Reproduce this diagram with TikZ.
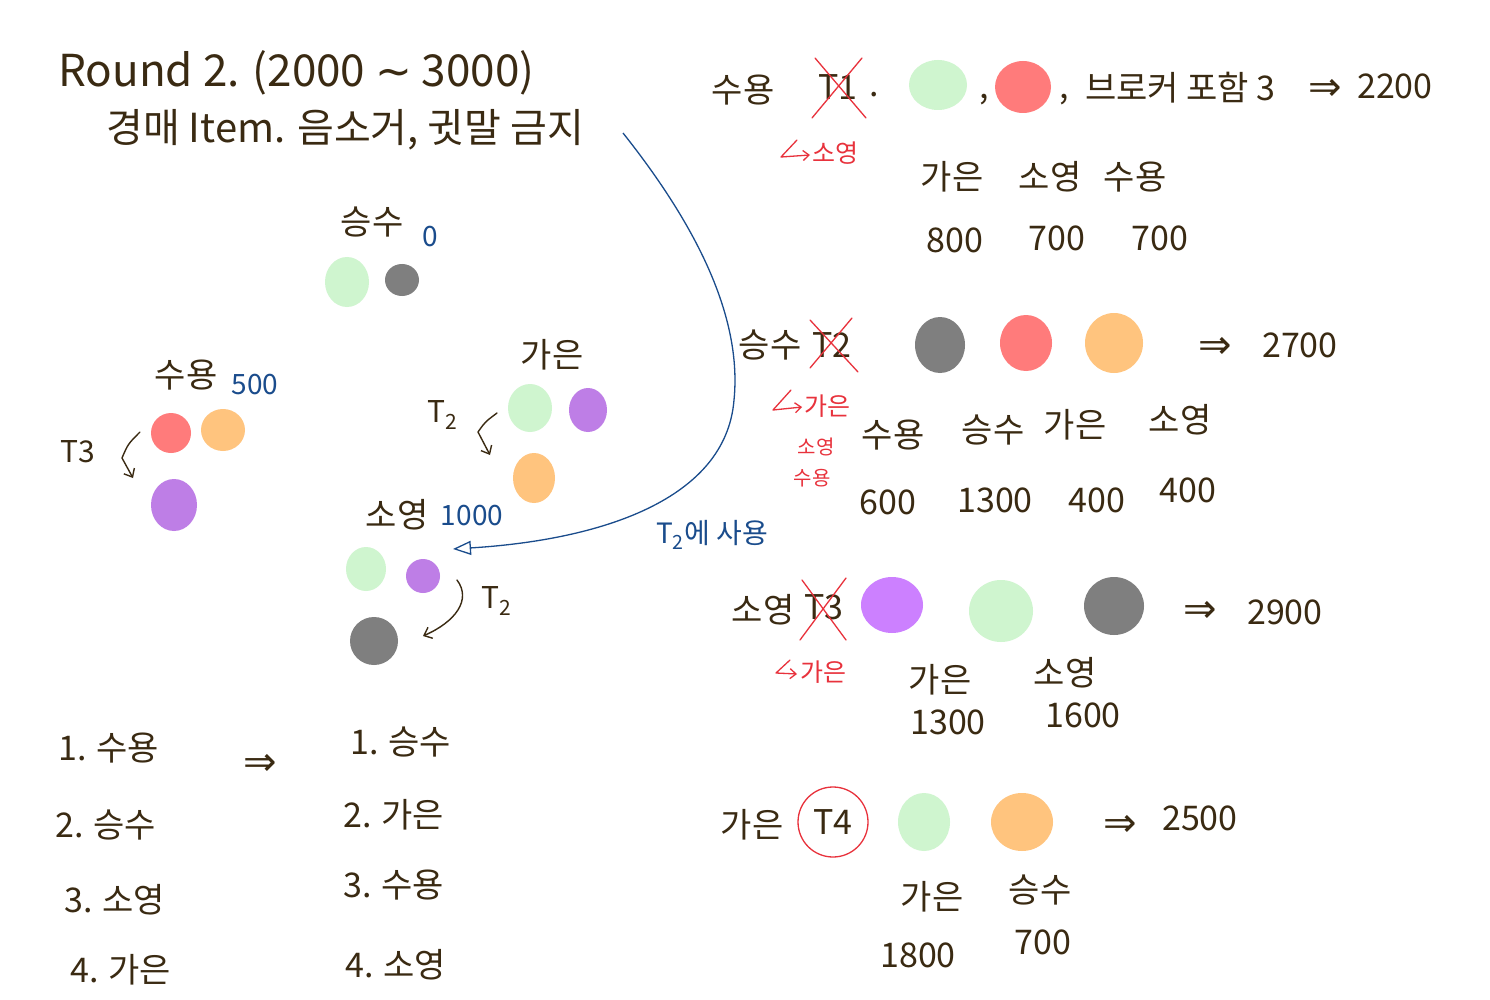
\documentclass[tikz,border=0pt]{standalone}
\usepackage{fontspec}
\usetikzlibrary{shapes.geometric,arrows.meta}
\newfontfamily\kr{Noto Sans CJK KR}
\newfontfamily\symf{DejaVu Sans}
\definecolor{ink}{HTML}{3A2A12}
\definecolor{pblue}{HTML}{1A4C8C}
\definecolor{pred}{HTML}{E8323C}
\definecolor{cgreen}{HTML}{CFF5CF}
\definecolor{cred}{HTML}{FF7B7B}
\definecolor{corange}{HTML}{FFC47E}
\definecolor{cpurple}{HTML}{BE7EE6}
\definecolor{cpurple2}{HTML}{CC80FF}
\definecolor{cgray}{HTML}{7F7F7F}
\tikzset{
  txt/.style={font=\kr\fontsize{34}{34}\selectfont, text=ink, inner sep=0pt},
  big/.style={font=\kr\fontsize{44}{44}\selectfont, text=ink, inner sep=0pt},
  sub/.style={font=\kr\fontsize{40}{40}\selectfont, text=ink, inner sep=0pt},
  small/.style={font=\kr\fontsize{30}{30}\selectfont, text=ink, inner sep=0pt},
  bluetxt/.style={font=\kr\fontsize{28}{28}\selectfont, text=pblue, inner sep=0pt},
  redtxt/.style={font=\kr\fontsize{25}{25}\selectfont, text=pred, inner sep=0pt},
  redsm/.style={font=\kr\fontsize{20}{20}\selectfont, text=pred, inner sep=0pt},
  dbl/.style={font=\symf\fontsize{40}{40}\selectfont, text=ink, inner sep=0pt},
  dot/.style={ellipse, draw=none, inner sep=0pt},
  inkline/.style={draw=ink, line width=1.4pt, line cap=round, line join=round},
  inkarrow/.style={inkline, -{Straight Barb[length=7pt,width=12pt]}},
  redline/.style={draw=pred, line width=1.3pt, line cap=round, line join=round},
  redarrow/.style={redline, -{Straight Barb[length=6pt,width=10pt]}},
}
\begin{document}
\begin{tikzpicture}[x=1pt,y=-1pt]
\useasboundingbox[fill=white] (0,0) rectangle (1490,1000);

% ---- title ----
\node[big, anchor=west] (title) at (58,73) {Round 2. (2000 {\symf\char"223C} 3000)};
\node[sub, anchor=west] (sub) at (106,130) {경매 Item. 음소거, 귓말 금지};
\coordinate (cs) at (623,133);

% ---- 승수 0 ----
\node[txt] (ss) at (372,222) {승수};
\node[bluetxt] (ss0) at (430,237) {0};
\node[dot, fill=cgreen, minimum width=44pt, minimum height=50pt] (ssg) at (347,282) {};
\node[dot, fill=cgray, minimum width=34pt, minimum height=32pt] (ssk) at (402,280) {};

% ---- 수용 500 ----
\node[txt] (sy) at (186,375) {수용};
\node[bluetxt] (sy5) at (255,385) {500};
\node[dot, fill=cred, minimum width=40pt, minimum height=40pt] (syr) at (171,433) {};
\node[dot, fill=corange, minimum width=44pt, minimum height=42pt] (syo) at (223,430) {};
\node[dot, fill=cpurple, minimum width=46pt, minimum height=52pt] (syp) at (174,505) {};
\node[small] (syt) at (78,452) {T3};
\draw[inkarrow] (140,432) .. controls (128,444) .. (122,458) -- (133,478);

% ---- 가은 ----
\node[txt] (ge) at (552,355) {가은};
\node[dot, fill=cgreen, minimum width=44pt, minimum height=48pt] (geg) at (530,408) {};
\node[dot, fill=cpurple, minimum width=38pt, minimum height=44pt] (gep) at (588,410) {};
\node[dot, fill=corange, minimum width=42pt, minimum height=50pt] (geo) at (534,478) {};
\node[small] (get) at (443,415) {T\textsubscript{2}};
\draw[inkarrow] (497,413) .. controls (485,422) .. (478,432) -- (490,455);

% ---- 소영 1000 ----
\node[txt] (so) at (397,515) {소영};
\node[bluetxt] (so1) at (472,516) {1000};
\node[dot, fill=cgreen, minimum width=40pt, minimum height=44pt] (sog) at (366,569) {};
\node[dot, fill=cpurple, minimum width=34pt, minimum height=34pt] (sop) at (423,576) {};
\node[dot, fill=cgray, minimum width=48pt, minimum height=48pt] (sok) at (374,641) {};
\node[small] (sot) at (497,601) {T\textsubscript{2}};
\draw[inkarrow] (457,580) .. controls (472,600) and (455,622) .. (423,636);

% ---- blue curve ----
\coordinate (ce) at (453,549);
\draw[pblue, line width=1.3pt, -{Triangle[open,length=18pt,width=14pt]}]
  (cs) .. controls (700,230) and (742,320) .. (734,400)
       .. controls (726,500) and (600,540) .. (ce);
\node[font=\kr\fontsize{28}{28}\selectfont, text=pblue, inner sep=0pt] (t2u) at (712,535) {T\textsubscript{2}에 사용};

% ---- bottom-left ranking ----
\node[txt, anchor=west] (l1) at (58,748) {1. 수용};
\node[txt, anchor=west] (l2) at (55,825) {2. 승수};
\node[txt, anchor=west] (l3) at (64,900) {3. 소영};
\node[txt, anchor=west] (l4) at (70,970) {4. 가은};
\node[dbl] (larr) at (260,765) {⇒};
\node[txt, anchor=west] (r1) at (350,742) {1. 승수};
\node[txt, anchor=west] (r2) at (343,815) {2. 가은};
\node[txt, anchor=west] (r3) at (343,885) {3. 수용};
\node[txt, anchor=west] (r4) at (345,965) {4. 소영};

% ---- right: row 1 ----
\node[txt] (a1) at (743,90) {수용};
\node[txt] (a1t) at (838,87) {T1};
\draw[redline] (815,58) -- (866,118);
\draw[redline] (862,58) -- (812,118);
\node[txt] at (874,95) {.};
\node[dot, fill=cgreen, minimum width=58pt, minimum height=50pt] (a1g) at (938,85) {};
\node[txt] at (984,100) {,};
\node[dot, fill=cred, minimum width=56pt, minimum height=52pt] (a1r) at (1023,87) {};
\node[txt] at (1064,100) {,};
\node[txt, anchor=west] (a1b) at (1085,88) {브로커 포함 3};
\node[dbl] (a1arr) at (1325,90) {⇒};
\node[txt, anchor=west] (a1v) at (1357,86) {2200};
\draw[redarrow] (797,140) -- (781,157) -- (810,155);
\node[redtxt, anchor=west] (a1s) at (812,153) {소영};
\node[txt] (a1n1) at (952,177) {가은};
\node[txt] (a1n2) at (1050,177) {소영};
\node[txt] (a1n3) at (1135,177) {수용};
\node[txt] (a1v1) at (955,240) {800};
\node[txt] (a1v2) at (1057,238) {700};
\node[txt] (a1v3) at (1160,238) {700};

% ---- right: row 2 ----
\node[txt] (b1) at (770,345) {승수};
\node[txt] (b1t) at (832,345) {T2};
\draw[redline] (810,320) -- (858,372);
\draw[redline] (852,318) -- (810,368);
\node[dot, fill=cgray, minimum width=50pt, minimum height=56pt] (b1k) at (940,345) {};
\node[dot, fill=cred, minimum width=52pt, minimum height=56pt] (b1r) at (1026,343) {};
\node[dot, fill=corange, minimum width=58pt, minimum height=60pt] (b1o) at (1114,343) {};
\node[dbl] (b1arr) at (1215,348) {⇒};
\node[txt, anchor=west] (b1v) at (1262,345) {2700};
\draw[redarrow] (791,390) -- (773,410) -- (802,407);
\node[redtxt, anchor=west] (b1s) at (804,406) {가은};
\node[redsm] (b1s2) at (816,447) {소영};
\node[redsm] (b1s3) at (812,478) {수용};
\node[txt] (b1n1) at (893,435) {수용};
\node[txt] (b1n2) at (993,430) {승수};
\node[txt] (b1n3) at (1075,425) {가은};
\node[txt] (b1n4) at (1180,420) {소영};
\node[txt] (b1v1) at (888,502) {600};
\node[txt] (b1v2) at (995,500) {1300};
\node[txt] (b1v3) at (1097,500) {400};
\node[txt] (b1v4) at (1188,490) {400};

% ---- right: row 3 ----
\node[txt] (c1) at (763,610) {소영};
\node[txt] (c1t) at (824,607) {T3};
\draw[redline] (846,578) -- (800,640);
\draw[redline] (802,580) -- (846,640);
\node[dot, fill=cpurple2, minimum width=62pt, minimum height=56pt] (c1p) at (892,605) {};
\node[dot, fill=cgreen, minimum width=64pt, minimum height=62pt] (c1g) at (1001,611) {};
\node[dot, fill=cgray, minimum width=60pt, minimum height=58pt] (c1k) at (1114,606) {};
\node[dbl] (c1arr) at (1200,612) {⇒};
\node[txt, anchor=west] (c1v) at (1247,612) {2900};
\draw[redarrow] (790,660) -- (776,673) -- (797,674);
\node[redtxt, anchor=west] (c1s) at (800,672) {가은};
\node[txt] (c1n1) at (940,680) {가은};
\node[txt] (c1n2) at (1065,673) {소영};
\node[txt] (c1v1) at (948,722) {1300};
\node[txt] (c1v2) at (1083,715) {1600};

% ---- right: row 4 ----
\node[txt] (d1) at (752,825) {가은};
\node[txt, circle, draw=pred, line width=1.3pt, minimum size=70pt] (d1t) at (833,822) {T4};
\node[dot, fill=cgreen, minimum width=52pt, minimum height=58pt] (d1g) at (924,822) {};
\node[dot, fill=corange, minimum width=62pt, minimum height=58pt] (d1o) at (1022,822) {};
\node[dbl] (d1arr) at (1120,826) {⇒};
\node[txt, anchor=west] (d1v) at (1162,818) {2500};
\node[txt] (d1n1) at (932,897) {가은};
\node[txt] (d1n2) at (1040,890) {승수};
\node[txt] (d1v1) at (918,955) {1800};
\node[txt] (d1v2) at (1043,942) {700};
\end{tikzpicture}
\end{document}
